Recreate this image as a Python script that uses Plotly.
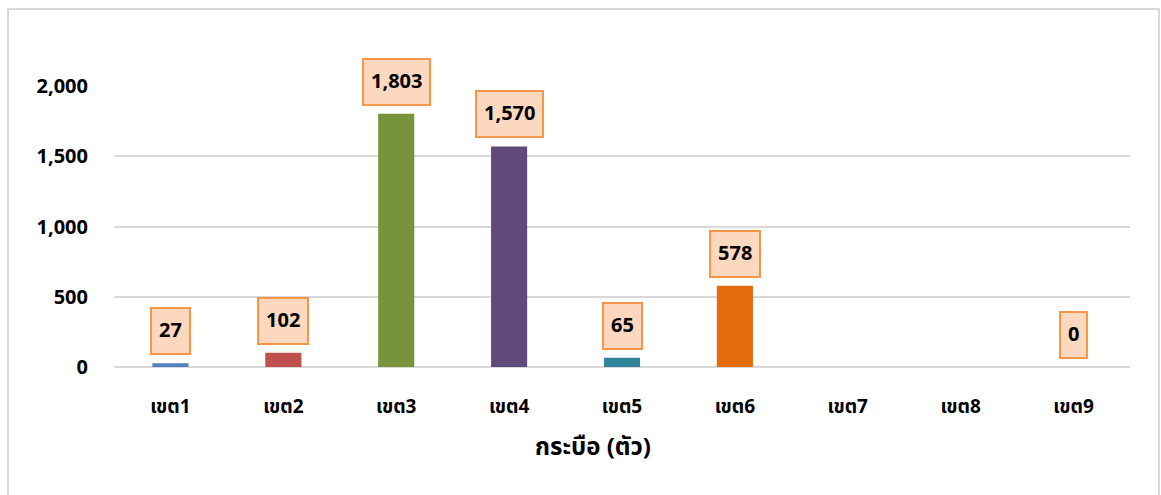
import plotly.graph_objects as go

categories = ["เขต1", "เขต2", "เขต3", "เขต4", "เขต5", "เขต6", "เขต7", "เขต8", "เขต9"]
values = [27, 102, 1803, 1570, 65, 578, None, None, 0]
bar_colors = ["#4F81BD", "#C0504D", "#77933C", "#604A7B", "#31859C", "#E46C0A",
              "#4F81BD", "#C0504D", "#77933C"]
y_ticks = [0, 500, 1000, 1500, 2000]
x_title = "กระบือ (ตัว)"

FONT = "Tahoma, 'Noto Sans Thai', 'Noto Sans', 'DejaVu Sans', sans-serif"

fig = go.Figure()
fig.add_trace(go.Bar(
    x=categories, y=values,
    marker=dict(color=bar_colors, line=dict(width=0)),
    width=0.32, hoverinfo="x+y",
))

annotations = []
for c, v in zip(categories, values):
    if v is None:
        continue
    annotations.append(dict(
        x=c, y=v, xref="x", yref="y", text=f"<b>{v:,}</b>", showarrow=False,
        yanchor="bottom", yshift=8,
        font=dict(family=FONT, size=20, color="#000000"),
        bgcolor="#FCD8BE", bordercolor="#F79646",
        borderwidth=2, borderpad=7,
    ))

annotations.append(dict(
    x=(593 - 114) / 1016, y=(367 - 448) / 281, xref="paper", yref="paper",
    text=f"<b>{x_title}</b>", showarrow=False, xanchor="center", yanchor="middle",
    font=dict(family=FONT, size=24, color="#000000"),
))

fig.update_layout(
    width=1161, height=495,
    margin=dict(l=114, r=31, t=86, b=128),
    paper_bgcolor="white", plot_bgcolor="white",
    showlegend=False,
    annotations=annotations,
    shapes=[dict(type="rect", xref="paper", yref="paper",
                 x0=(8 - 114) / 1016, x1=(1159 - 114) / 1016,
                 y0=(367 - 520) / 281, y1=(367 - 9) / 281,
                 line=dict(color="#D9D9D9", width=2), layer="below")],
    xaxis=dict(
        showgrid=False, showline=False, zeroline=False, ticks="",
        tickfont=dict(family=FONT, size=19, color="#000000"),
        ticklabelstandoff=26,
        tickprefix="<b>", ticksuffix="</b>",
    ),
    yaxis=dict(
        range=[0, 2000], tickvals=y_ticks,
        ticktext=[f"<b>{t:,}</b>" for t in y_ticks],
        showgrid=True, gridcolor="#D9D9D9", gridwidth=1.5,
        zeroline=True, zerolinecolor="#D9D9D9", zerolinewidth=1.5,
        showline=False, ticks="",
        tickfont=dict(family=FONT, size=20, color="#000000"),
        ticklabelstandoff=25,
    ),
)

fig.write_html("out.html", config={"displayModeBar": False},
               post_script="document.body.style.margin='0';")
